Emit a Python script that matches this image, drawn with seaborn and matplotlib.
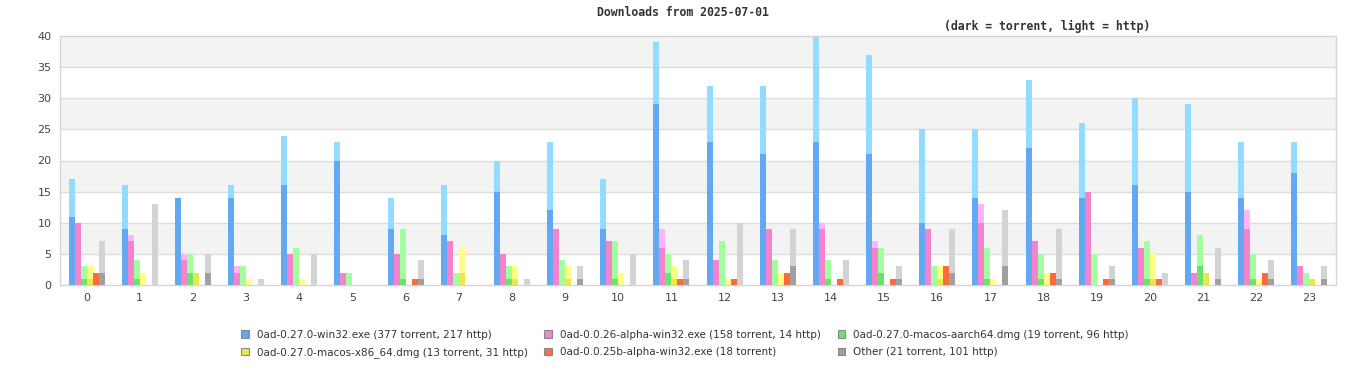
import numpy as np
import pandas as pd
import matplotlib
matplotlib.use("Agg")
import matplotlib.pyplot as plt
from matplotlib.patches import Patch
import seaborn as sns

# hourly downloads, per file: torrent part and total (torrent + http)
hours = list(range(24))
files = [
    "0ad-0.27.0-win32.exe (377 torrent, 217 http)",
    "0ad-0.0.26-alpha-win32.exe (158 torrent, 14 http)",
    "0ad-0.27.0-macos-aarch64.dmg (19 torrent, 96 http)",
    "0ad-0.27.0-macos-x86_64.dmg (13 torrent, 31 http)",
    "0ad-0.0.25b-alpha-win32.exe (18 torrent)",
    "Other (21 torrent, 101 http)",
]

win32_torrent = [11, 9, 14, 14, 16, 20, 9, 8, 15, 12, 9, 29, 23, 21, 23, 21, 10, 14, 22, 14, 16, 15, 14, 18]
win32_total = [17, 16, 14, 16, 24, 23, 14, 16, 20, 23, 17, 39, 32, 32, 40, 37, 25, 25, 33, 26, 30, 29, 23, 23]
a26_torrent = [10, 7, 4, 2, 5, 2, 5, 7, 5, 9, 7, 6, 4, 9, 9, 6, 9, 10, 7, 15, 6, 2, 9, 3]
a26_total = [10, 8, 5, 3, 5, 2, 5, 7, 5, 9, 7, 9, 4, 9, 10, 7, 9, 13, 7, 15, 6, 2, 12, 3]
arm_torrent = [1, 1, 2, 0, 0, 0, 1, 0, 1, 0, 1, 2, 0, 0, 1, 2, 0, 1, 1, 0, 1, 3, 1, 0]
arm_total = [3, 4, 5, 3, 6, 2, 9, 2, 3, 4, 7, 5, 7, 4, 4, 6, 3, 6, 5, 5, 7, 8, 5, 2]
x86_torrent = [1, 0, 2, 0, 0, 0, 0, 2, 1, 1, 0, 1, 0, 0, 0, 0, 1, 0, 0, 0, 1, 2, 0, 1]
x86_total = [3, 2, 2, 1, 1, 0, 0, 6, 3, 3, 2, 3, 1, 2, 0, 0, 3, 1, 2, 0, 5, 2, 1, 1]
a25_torrent = [2, 0, 0, 0, 0, 0, 1, 0, 0, 0, 0, 1, 1, 2, 1, 1, 3, 0, 2, 1, 1, 0, 2, 0]
a25_total = a25_torrent
other_torrent = [2, 0, 2, 0, 0, 0, 1, 0, 0, 1, 0, 1, 0, 3, 0, 1, 2, 3, 1, 1, 0, 1, 1, 1]
other_total = [7, 13, 5, 1, 5, 0, 4, 0, 1, 3, 5, 4, 10, 9, 4, 3, 9, 12, 9, 3, 2, 6, 4, 3]

dark_colors = ["#62a8f2", "#f283cc", "#6ae36a", "#e8e84e", "#ff6a3d", "#a0a0a0"]
light_colors = ["#93dbff", "#ffb3ff", "#a2ff9e", "#ffff80", "#ffa07a", "#d3d3d3"]

torrent = [win32_torrent, a26_torrent, arm_torrent, x86_torrent, a25_torrent, other_torrent]
total = [win32_total, a26_total, arm_total, x86_total, a25_total, other_total]

rows = []
for f, t_vals, tot_vals in zip(files, torrent, total):
    for h, t, tot in zip(hours, t_vals, tot_vals):
        rows.append({"hour": h, "file": f, "torrent": t, "total": tot})
df = pd.DataFrame(rows)

sns.set_style("white")
plt.rcParams["font.family"] = ["DejaVu Sans"]

fig = plt.figure(figsize=(13.66, 3.8), dpi=100)
ax = fig.add_axes([60 / 1366, 1 - 285 / 380, 1276 / 1366, 249 / 380])

# alternating background bands (grey 5-10, 15-20, 25-30, 35-40)
for lo in range(5, 40, 10):
    ax.axhspan(lo, lo + 5, color="#f3f3f3", zorder=0, lw=0)
for y in range(5, 40, 5):
    ax.axhline(y, color="#dcdcdc", lw=1, zorder=0.5)

# light = total (http on top), dark = torrent part drawn over it
sns.barplot(data=df, x="hour", y="total", hue="file", hue_order=files,
            palette=dict(zip(files, light_colors)), width=0.68, saturation=1,
            errorbar=None, legend=False, ax=ax, zorder=2, linewidth=0, edgecolor="none")
sns.barplot(data=df, x="hour", y="torrent", hue="file", hue_order=files,
            palette=dict(zip(files, dark_colors)), width=0.68, saturation=1,
            errorbar=None, legend=False, ax=ax, zorder=3, linewidth=0, edgecolor="none")

ax.set_xlim(-0.5, 23.5)
ax.set_ylim(0, 40)
ax.set_yticks(range(0, 41, 5))
ax.set_xlabel("")
ax.set_ylabel("")
ax.tick_params(axis="both", length=0, labelsize=8, labelcolor="#444444", pad=6)
for s in ax.spines.values():
    s.set_color("#d6d6d6")
    s.set_linewidth(1)

fig.text(683 / 1366, 1 - 13 / 380, "Downloads from 2025-07-01", ha="center", va="center",
         family="DejaVu Sans Mono", weight="bold", fontsize=8.3, color="#333333")
fig.text(1047 / 1366, 1 - 26 / 380, "(dark = torrent, light = http)", ha="center", va="center",
         family="DejaVu Sans Mono", weight="bold", fontsize=8.3, color="#333333")

# legend filled row by row: reorder for matplotlib's column-first layout
order = [0, 3, 1, 4, 2, 5]
handles = [Patch(facecolor=dark_colors[i], edgecolor="#888888", linewidth=0.8) for i in order]
labels = [files[i] for i in order]
fig.legend(handles, labels, loc="center", bbox_to_anchor=(685 / 1366, 1 - 344 / 380),
           ncol=3, frameon=False, fontsize=7.5, handlelength=0.7, handleheight=0.7,
           handletextpad=0.8, columnspacing=1.6, labelspacing=0.75, labelcolor="#333333")

fig.savefig("out.png", dpi=100)
